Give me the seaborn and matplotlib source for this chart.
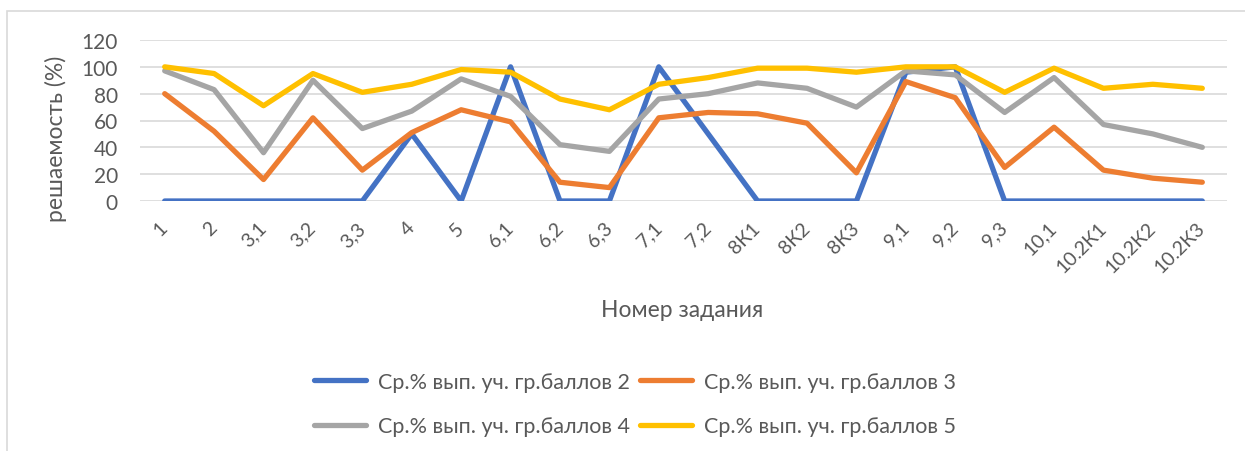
import pandas as pd
import matplotlib.pyplot as plt
import matplotlib.patches as mpatches
import seaborn as sns

# task numbers (x axis)
tasks = ["1", "2", "3,1", "3,2", "3,3", "4", "5", "6,1", "6,2", "6,3", "7,1", "7,2",
         "8К1", "8К2", "8К3", "9,1", "9,2", "9,3", "10,1", "10.2К1", "10.2К2", "10.2К3"]

# average % solved per score group
score_2 = [0, 0, 0, 0, 0, 50, 0, 100, 0, 0, 100, 50, 0, 0, 0, 96, 100, 0, 0, 0, 0, 0]
score_3 = [80, 52, 16, 62, 23, 51, 68, 59, 14, 10, 62, 66, 65, 58, 21, 89, 77, 25, 55, 23, 17, 14]
score_4 = [97, 83, 36, 90, 54, 67, 91, 78, 42, 37, 76, 80, 88, 84, 70, 97, 94, 66, 92, 57, 50, 40]
score_5 = [100, 95, 71, 95, 81, 87, 98, 96, 76, 68, 87, 92, 99, 99, 96, 100, 100, 81, 99, 84, 87, 84]

series_names = ["Ср.% вып. уч. гр.баллов 2", "Ср.% вып. уч. гр.баллов 3",
                "Ср.% вып. уч. гр.баллов 4", "Ср.% вып. уч. гр.баллов 5"]
colors = ["#4472C4", "#ED7D31", "#A5A5A5", "#FFC000"]

frames = []
for name, vals in zip(series_names, [score_2, score_3, score_4, score_5]):
    frames.append(pd.DataFrame({"task": tasks, "pct": vals, "series": name}))
df = pd.concat(frames, ignore_index=True)

sns.set_theme(style="white")
plt.rcParams['font.family'] = ['Lato', 'DejaVu Sans']
txt = "#595959"

fig = plt.figure(figsize=(12.45, 4.52), dpi=100)
ax = fig.add_axes([140/1245, 1-202/452, 1087/1245, 161/452])

# chart frame
fig.patches.append(mpatches.Rectangle((7/1245, -0.1), 1.2, 1-12/452+0.1,
                                      transform=fig.transFigure, fill=False,
                                      edgecolor="#D9D9D9", lw=1.2))

sns.lineplot(data=df, x="task", y="pct", hue="series", palette=colors,
             sort=False, errorbar=None, lw=3.8, ax=ax,
             solid_capstyle="round", solid_joinstyle="round", zorder=3)

ax.set_ylim(0, 120)
ax.set_yticks(range(0, 121, 20))
ax.set_xlim(-0.5, len(tasks) - 0.5)
ax.grid(axis="y", color="#D9D9D9", lw=1.2)
ax.set_axisbelow(True)
sns.despine(ax=ax, left=True, bottom=True)
ax.tick_params(axis="y", length=0, pad=16, labelsize=15, labelcolor=txt)
ax.tick_params(axis="x", length=0, pad=17, labelsize=14, labelcolor=txt)
for lab in ax.get_xticklabels():
    lab.set_rotation(45)
    lab.set_ha("right")
    lab.set_va("center")
    lab.set_rotation_mode("anchor")

ax.set_ylabel("решаемость (%)", fontsize=16.5, color=txt)
ax.yaxis.set_label_coords(-(140-67)/1087, (202-139)/161)
ax.set_xlabel("Номер задания", fontsize=16.5, color=txt)
ax.xaxis.set_label_coords((682-140)/1087, -(300-202)/161)

handles, labels = ax.get_legend_handles_labels()
ax.get_legend().remove()
order = [0, 2, 1, 3]
fig.legend([handles[i] for i in order], [labels[i] for i in order],
           ncol=2, loc="center", bbox_to_anchor=(635/1245, 1-405/452),
           frameon=False, fontsize=15.5, labelcolor=txt, handlelength=2.4,
           handletextpad=0.55, columnspacing=0.5, labelspacing=1.15)

fig.savefig("out.png", dpi=100)
